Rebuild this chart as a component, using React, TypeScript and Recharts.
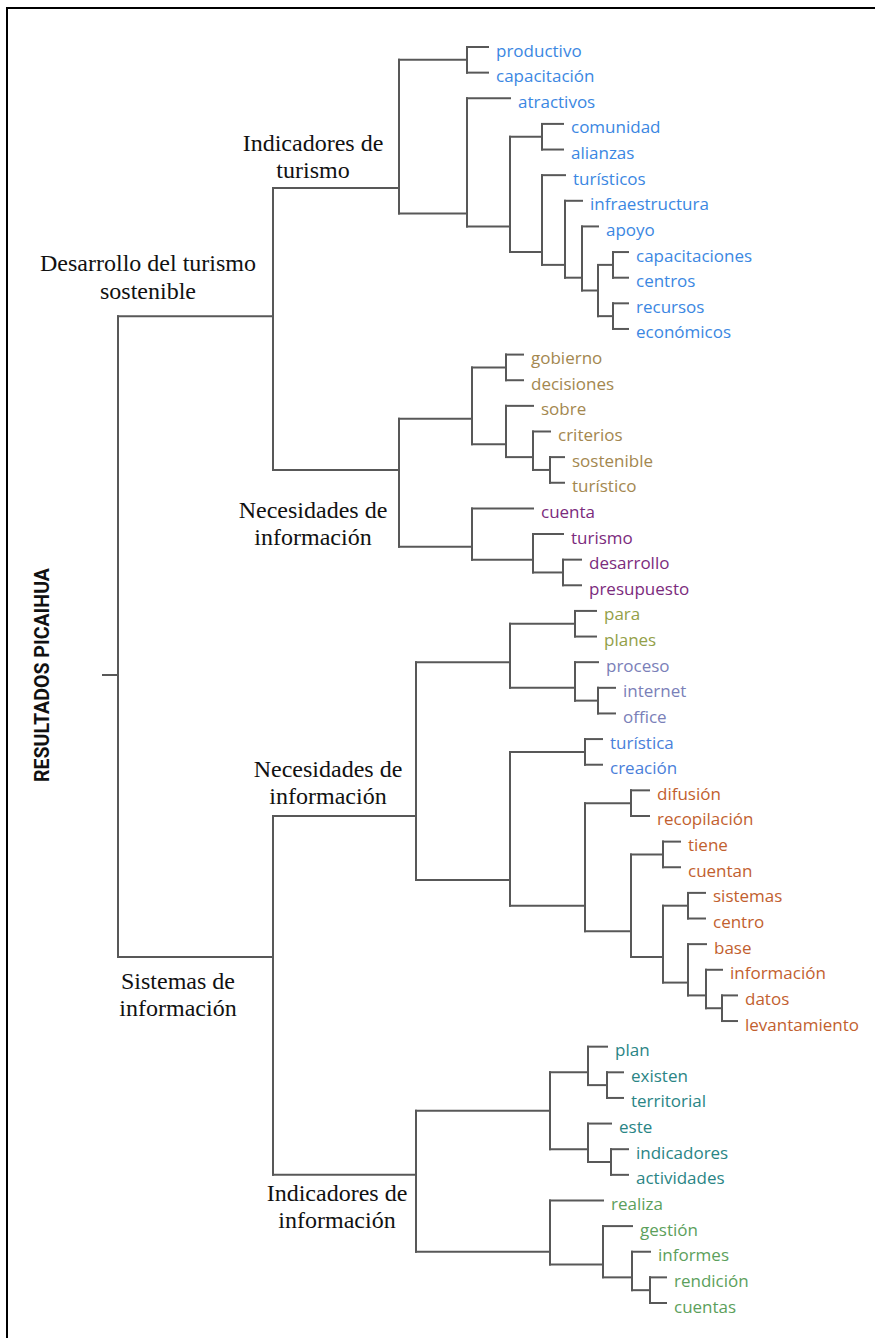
import React from 'react'
import { ScatterChart, Scatter, XAxis, YAxis, ReferenceLine } from 'recharts'

// words at the tips of the tree, top to bottom
const leafNames = [
    'productivo', 'capacitación', 'atractivos', 'comunidad', 'alianzas', 'turísticos', 'infraestructura', 'apoyo',
    'capacitaciones', 'centros', 'recursos', 'económicos',
    'gobierno', 'decisiones', 'sobre', 'criterios', 'sostenible', 'turístico',
    'cuenta', 'turismo', 'desarrollo', 'presupuesto',
    'para', 'planes', 'proceso', 'internet', 'office', 'turística', 'creación',
    'difusión', 'recopilación', 'tiene', 'cuentan', 'sistemas', 'centro', 'base', 'información', 'datos', 'levantamiento',
    'plan', 'existen', 'territorial', 'este', 'indicadores', 'actividades',
    'realiza', 'gestión', 'informes', 'rendición', 'cuentas',
]

// where each leaf branch stops, measured from the root tick
const leafEnds = [
    385, 385, 407, 460, 460, 462, 479, 495, 525, 525, 525, 525,
    420, 420, 430, 447, 461, 461,
    430, 460, 478, 478,
    493, 493, 495, 512, 512, 499, 499,
    546, 546, 577, 577, 602, 602, 603, 619, 634, 634,
    504, 520, 520, 508, 525, 525,
    500, 529, 547, 563, 563,
]

// colour groups, in leaf order
const groupSizes = [12, 6, 4, 2, 3, 2, 10, 6, 5]
const groupColors = ['#3b87e2', '#a3874f', '#7b2b7d', '#93a048', '#7a80b8', '#4a80da', '#c25f2f', '#2a8585', '#5c9f5c']

// clusters: id, merge distance, members
const clusterIds = [
    'root', 'dts', 'it', 'b1', 'b2', 'c1', 'c2', 'c3', 'c4', 'c5', 'c6', 'c7', 'c8',
    'ni1', 'd1', 'd3', 'd4', 'd5', 'd6', 'd2', 'd7', 'd8',
    'si', 'ni2', 'f1', 'f3', 'f4', 'f5', 'f2', 'f6', 'f7', 'f8', 'f9', 'f10', 'f11', 'f12', 'f13', 'f14', 'f15',
    'ii', 'g1', 'g3', 'g5', 'g4', 'g6', 'g2', 'g7', 'g8', 'g9',
]
const clusterX = [
    15, 170, 296, 364, 364, 407, 439, 439, 462, 479, 495, 510, 510,
    296, 369, 403, 403, 430, 447, 369, 430, 460,
    170, 313, 407, 472, 472, 495, 407, 482, 482, 528, 528, 560, 560, 585, 585, 603, 619,
    313, 447, 485, 504, 485, 508, 447, 500, 529, 547,
]
const clusterKids = [
    ['dts', 'si'], ['it', 'ni1'], ['b1', 'b2'], ['productivo', 'capacitación'], ['atractivos', 'c1'],
    ['c2', 'c3'], ['comunidad', 'alianzas'], ['turísticos', 'c4'], ['infraestructura', 'c5'], ['apoyo', 'c6'],
    ['c7', 'c8'], ['capacitaciones', 'centros'], ['recursos', 'económicos'],
    ['d1', 'd2'], ['d3', 'd4'], ['gobierno', 'decisiones'], ['sobre', 'd5'], ['criterios', 'd6'], ['sostenible', 'turístico'],
    ['cuenta', 'd7'], ['turismo', 'd8'], ['desarrollo', 'presupuesto'],
    ['ni2', 'ii'], ['f1', 'f2'], ['f3', 'f4'], ['para', 'planes'], ['proceso', 'f5'], ['internet', 'office'],
    ['f6', 'f7'], ['turística', 'creación'], ['f8', 'f9'], ['difusión', 'recopilación'], ['f10', 'f11'],
    ['tiene', 'cuentan'], ['f12', 'f13'], ['sistemas', 'centro'], ['base', 'f14'], ['información', 'f15'],
    ['datos', 'levantamiento'],
    ['g1', 'g2'], ['g3', 'g4'], ['plan', 'g5'], ['existen', 'territorial'], ['este', 'g6'], ['indicadores', 'actividades'],
    ['realiza', 'g7'], ['gestión', 'g8'], ['informes', 'g9'], ['rendición', 'cuentas'],
]

// category names on the main branches
const titleIds = ['dts', 'it', 'ni1', 'si', 'ni2', 'ii']
const titleLines = [
    ['Desarrollo del turismo', 'sostenible'],
    ['Indicadores de', 'turismo'],
    ['Necesidades de', 'información'],
    ['Sistemas de', 'información'],
    ['Necesidades de', 'información'],
    ['Indicadores de', 'información'],
]
// pixel offset of the first text baseline from its branch joint
const titleOffsets: Record<string, [number, number]> = {
    dts: [-125, -45], it: [-86, -37], ni1: [-86, 48], si: [-95, 32], ni2: [-88, -39], ii: [-79, 26],
}

const rootTitle = 'RESULTADOS PICAIHUA'

const W = 875
const H = 1338
const LINE = '#585858'

const leafColor: string[] = []
groupSizes.forEach((n, g) => { for (let i = 0; i < n; i++) leafColor.push(groupColors[g]) })

const leafIndex: Record<string, number> = {}
leafNames.forEach((n, i) => { leafIndex[n] = i })
const clusterIndex: Record<string, number> = {}
clusterIds.forEach((c, i) => { clusterIndex[c] = i })

const leavesOf = (id: string): number[] =>
    id in leafIndex ? [leafIndex[id]] : clusterKids[clusterIndex[id]].flatMap(leavesOf)
const nodeY = (id: string) => {
    const l = leavesOf(id)
    return l.reduce((a, b) => a + b, 0) / l.length
}
const nodeX = (id: string) => (id in leafIndex ? leafEnds[leafIndex[id]] : clusterX[clusterIndex[id]])

type Seg = [{ x: number; y: number }, { x: number; y: number }]
const segments: Seg[] = []
clusterIds.forEach((id, i) => {
    const x = clusterX[i]
    const ys = clusterKids[i].map(nodeY)
    segments.push([{ x, y: Math.min(...ys) }, { x, y: Math.max(...ys) }])
    clusterKids[i].forEach(k => {
        const y = nodeY(k)
        segments.push([{ x, y }, { x: nodeX(k), y }])
    })
})
const rootY = nodeY('root')
segments.push([{ x: 0, y: rootY }, { x: clusterX[0], y: rootY }])

const leafData = leafNames.map((name, i) => ({ x: leafEnds[i], y: i, name, color: leafColor[i] }))
const titleData = titleIds.map((id, i) => ({ x: nodeX(id), y: nodeY(id), id, lines: titleLines[i] }))
const rootData = [{ x: 0, y: rootY }]

const LeafLabel = (p: any) => (
    <text x={p.cx + 8} y={p.cy + 9.5} fill={p.payload.color} fontSize={17} fontFamily="'Open Sans', sans-serif">
        {p.payload.name}
    </text>
)

const TitleLabel = (p: any) => {
    const [dx, dy] = titleOffsets[p.payload.id]
    return (
        <text textAnchor="middle" fontSize={24} fill="#111" fontFamily="'Liberation Serif', 'Times New Roman', serif">
            {p.payload.lines.map((l: string, i: number) => (
                <tspan key={i} x={p.cx + dx} y={p.cy + dy + i * 27.5}>{l}</tspan>
            ))}
        </text>
    )
}

const RootLabel = (p: any) => (
    <text
        x={42}
        y={p.cy}
        transform={`rotate(-90 42 ${p.cy})`}
        textAnchor="middle"
        dominantBaseline="central"
        fontSize={21}
        fontWeight="bold"
        fill="#111"
        textLength={214}
        lengthAdjust="spacingAndGlyphs"
        fontFamily="Roboto, 'Open Sans', sans-serif"
    >
        {rootTitle}
    </text>
)

export default function App() {
    return (
        <div style={{ position: 'absolute', left: 0, top: 0, width: W, height: H, background: '#fff', overflow: 'hidden' }}>
            <div style={{ position: 'absolute', left: 6, top: 7, right: 0, bottom: 0, borderTop: '2px solid #000', borderLeft: '2px solid #000' }} />
            <div style={{ position: 'absolute', left: 0, top: 0 }}>
                <ScatterChart width={W} height={H} margin={{ top: 47, right: 0, bottom: 35, left: 103 }}>
                    <XAxis type="number" dataKey="x" domain={[0, 772]} hide />
                    <YAxis type="number" dataKey="y" domain={[0, 49]} reversed hide />
                    {segments.map((s, i) => (
                        <ReferenceLine key={i} segment={s} stroke={LINE} strokeWidth={2} strokeLinecap="square" />
                    ))}
                    <Scatter data={leafData} shape={LeafLabel} isAnimationActive={false} />
                    <Scatter data={titleData} shape={TitleLabel} isAnimationActive={false} />
                    <Scatter data={rootData} shape={RootLabel} isAnimationActive={false} />
                </ScatterChart>
            </div>
        </div>
    )
}
